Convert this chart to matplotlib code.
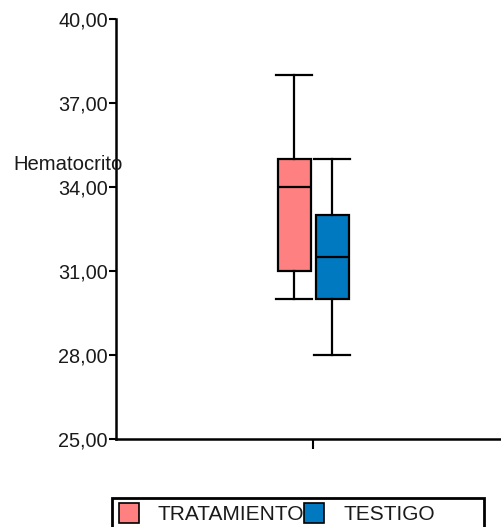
import matplotlib
matplotlib.use("Agg")
import matplotlib.pyplot as plt
from matplotlib.patches import Rectangle
from matplotlib.ticker import FuncFormatter

plt.rcParams['font.family'] = ['Liberation Sans', 'DejaVu Sans']

# ---- data ----
groups = ["TRATAMIENTO", "TESTIGO"]
colors = ["#FF8080", "#0079C1"]
whisker_low = [30.0, 28.0]
q1 = [31.0, 30.0]
median = [34.0, 31.5]
q3 = [35.0, 33.0]
whisker_high = [38.0, 35.0]
y_ticks = [25, 28, 31, 34, 37, 40]
y_label = "Hematocrito"

W, H = 501, 527
fig = plt.figure(figsize=(W / 100, H / 100), dpi=100)

ax_l, ax_r, ax_b, ax_t = 116, 501, 439, 19
ax = fig.add_axes([ax_l / W, (H - ax_b) / H, (ax_r - ax_l) / W, (ax_b - ax_t) / H])

unit = 38.0  # px per x data unit
center_px = 313
ax.set_xlim(-(center_px - ax_l) / unit, (ax_r - center_px) / unit)
ax.set_ylim(25, 40)

stats = []
for i, g in enumerate(groups):
    stats.append(dict(label=g, whislo=whisker_low[i], q1=q1[i], med=median[i],
                      q3=q3[i], whishi=whisker_high[i], fliers=[]))
positions = [-0.5, 0.5]
bp = ax.bxp(stats, positions=positions, widths=33 / unit, capwidths=36 / unit,
            patch_artist=True, showfliers=False,
            boxprops=dict(edgecolor="black", linewidth=1.6),
            medianprops=dict(color="black", linewidth=1.6),
            whiskerprops=dict(color="black", linewidth=1.6),
            capprops=dict(color="black", linewidth=1.6))
for patch, c in zip(bp['boxes'], colors):
    patch.set_facecolor(c)

ax.set_xticks([0])
ax.set_xticklabels([""])
ax.set_yticks(y_ticks)
ax.yaxis.set_major_formatter(FuncFormatter(lambda v, p: f"{v:.2f}".replace(".", ",")))
ax.tick_params(axis='y', direction='out', length=5, width=1.5, labelsize=14.3, pad=1,
               colors='black', labelcolor='#1a1a1a')
ax.tick_params(axis='x', direction='out', length=7, width=1.5)
for s in ['top', 'right']:
    ax.spines[s].set_visible(False)
for s in ['left', 'bottom']:
    ax.spines[s].set_linewidth(1.8)
    ax.spines[s].set_color('black')

fig.text(13 / W, (H - 165) / H, y_label, ha='left', va='center', fontsize=14.6,
         color='#1a1a1a')

# ---- legend ----
fig.patches.append(Rectangle((112 / W, -0.02), (484 - 112) / W, 0.02 + (H - 498) / H,
                             transform=fig.transFigure, fill=False,
                             edgecolor='black', linewidth=2))
patch_x = [119, 304]
text_x = [158, 343]
for i, g in enumerate(groups):
    fig.patches.append(Rectangle((patch_x[i] / W, (H - 523) / H), 20 / W, 20 / H,
                                 transform=fig.transFigure, facecolor=colors[i],
                                 edgecolor='black', linewidth=1.2))
    fig.text(text_x[i] / W, (H - 514) / H, g, ha='left', va='center', fontsize=15,
             color='#1a1a1a')

fig.savefig("out.png", dpi=100)
